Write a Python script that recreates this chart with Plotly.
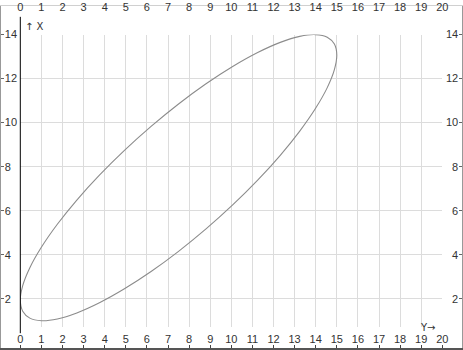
import plotly.graph_objects as go

# Ellipse points (Y horizontal, X vertical)
curve_y = [15.0, 14.886, 14.548, 13.995, 13.245, 12.321, 11.25, 10.065, 8.802, 7.5,
           6.198, 4.935, 3.75, 2.679, 1.755, 1.005, 0.452, 0.114, 0.0, 0.114,
           0.452, 1.005, 1.755, 2.679, 3.75, 4.935, 6.198, 7.5, 8.802, 10.065,
           11.25, 12.321, 13.245, 13.995, 14.548, 14.886, 15.0]
curve_x = [13.072, 13.568, 13.881, 13.999, 13.920, 13.646, 13.185, 12.551, 11.765, 10.848,
           9.829, 8.740, 7.613, 6.483, 5.384, 4.349, 3.410, 2.594, 1.928, 1.432,
           1.119, 1.001, 1.080, 1.354, 1.815, 2.449, 3.235, 4.152, 5.171, 6.260,
           7.387, 8.517, 9.616, 10.651, 11.590, 12.406, 13.072]

h_ticks = list(range(0, 21))
v_ticks = [2, 4, 6, 8, 10, 12, 14]

W, H = 463, 350
ML, MR, MT, MB = 1, 1, 1, 2
PW, PH = W - ML - MR, H - MT - MB

# pixel mapping (from reference)
px0, pxu = 20.3, 21.1        # pixel of horizontal 0, px per unit
py14, pyu = 30.0, 22.333     # pixel of vertical 14, px per unit

def xdata(p):
    return (p - px0) / pxu

def ydata(p):
    return 14 - (p - py14) / pyu

def xpaper(p):
    return (p - ML) / PW

def ypaper(p):
    return (H - MB - p) / PH

full_xr = [xdata(ML), xdata(W - MR)]
full_yr = [ydata(H - MB), ydata(MT)]

grid_bottom = 0.7
gx_dom = [xpaper(px0), xpaper(px0 + 20 * pxu)]
gy_dom = [ypaper(py14 + (14 - grid_bottom) * pyu), ypaper(py14)]

font = dict(family="Liberation Sans, Arial, sans-serif", size=11, color="#333333")
afont = dict(family="DejaVu Sans, sans-serif", size=10, color="#333333")

fig = go.Figure()
fig.add_trace(go.Scatter(x=[None], y=[None], xaxis="x", yaxis="y", showlegend=False, hoverinfo="skip"))
fig.add_trace(go.Scatter(x=[None], y=[None], xaxis="x2", yaxis="y", showlegend=False, hoverinfo="skip"))
fig.add_trace(go.Scatter(x=[None], y=[None], xaxis="x", yaxis="y2", showlegend=False, hoverinfo="skip"))
fig.add_trace(go.Scatter(x=curve_y, y=curve_x, xaxis="x3", yaxis="y3", mode="lines",
                         line=dict(color="#8c8c8c", width=1.1, shape="spline"),
                         cliponaxis=False, showlegend=False))

common_off = dict(showgrid=False, zeroline=False)

fig.update_layout(
    width=W, height=H,
    margin=dict(l=ML, r=MR, t=MT, b=MB),
    paper_bgcolor="white", plot_bgcolor="white",
    font=font,
    xaxis=dict(domain=[0, 1], range=full_xr, tickvals=h_ticks, ticks="inside", ticklen=3,
               tickcolor="#444", ticklabelposition="inside", ticklabelstandoff=-1,
               showline=True, linecolor="#555", linewidth=2, side="bottom", anchor="y",
               tickfont=font, **common_off),
    xaxis2=dict(range=full_xr, tickvals=h_ticks, ticks="", overlaying="x", side="top",
                ticklabelposition="inside", ticklabelstandoff=-3, showline=True,
                linecolor="#d0d0d0", linewidth=1, anchor="y", tickfont=font, **common_off),
    yaxis=dict(domain=[0, 1], range=full_yr, tickvals=v_ticks, ticks="inside", ticklen=3,
               tickcolor="#666", ticklabelposition="inside", showline=True, linecolor="#999",
               linewidth=1, side="left", anchor="x", tickfont=font, **common_off),
    yaxis2=dict(range=full_yr, tickvals=v_ticks, ticks="inside", ticklen=3, tickcolor="#666",
                ticklabelposition="inside", overlaying="y", side="right", showline=True,
                linecolor="#999", linewidth=1, anchor="x", tickfont=font, **common_off),
    xaxis3=dict(domain=gx_dom, range=[0, 20], dtick=1, tick0=0, showgrid=True,
                gridcolor="#dcdcdc", gridwidth=1, showticklabels=False, ticks="",
                zeroline=False, showline=False, anchor="y3"),
    yaxis3=dict(domain=gy_dom, range=[grid_bottom, 14], tickvals=v_ticks, showgrid=True,
                gridcolor="#dcdcdc", gridwidth=1, showticklabels=False, ticks="",
                zeroline=False, showline=False, anchor="x3"),
    shapes=[
        dict(type="line", xref="paper", yref="paper", x0=gx_dom[0], x1=gx_dom[0],
             y0=ypaper(333), y1=ypaper(12), line=dict(color="#000000", width=1)),
    ],
    annotations=[
        dict(text="↑ X", xref="paper", yref="paper", x=xpaper(23), y=ypaper(22),
             xanchor="left", yanchor="middle", showarrow=False, font=afont),
        dict(text="Y→", xref="paper", yref="paper", x=xpaper(438), y=ypaper(327),
             xanchor="right", yanchor="middle", showarrow=False, font=afont),
    ],
)

fig.write_html("out.html",
               config={"displayModeBar": False},
               post_script="document.body.style.margin='0';document.body.style.overflow='hidden';")
